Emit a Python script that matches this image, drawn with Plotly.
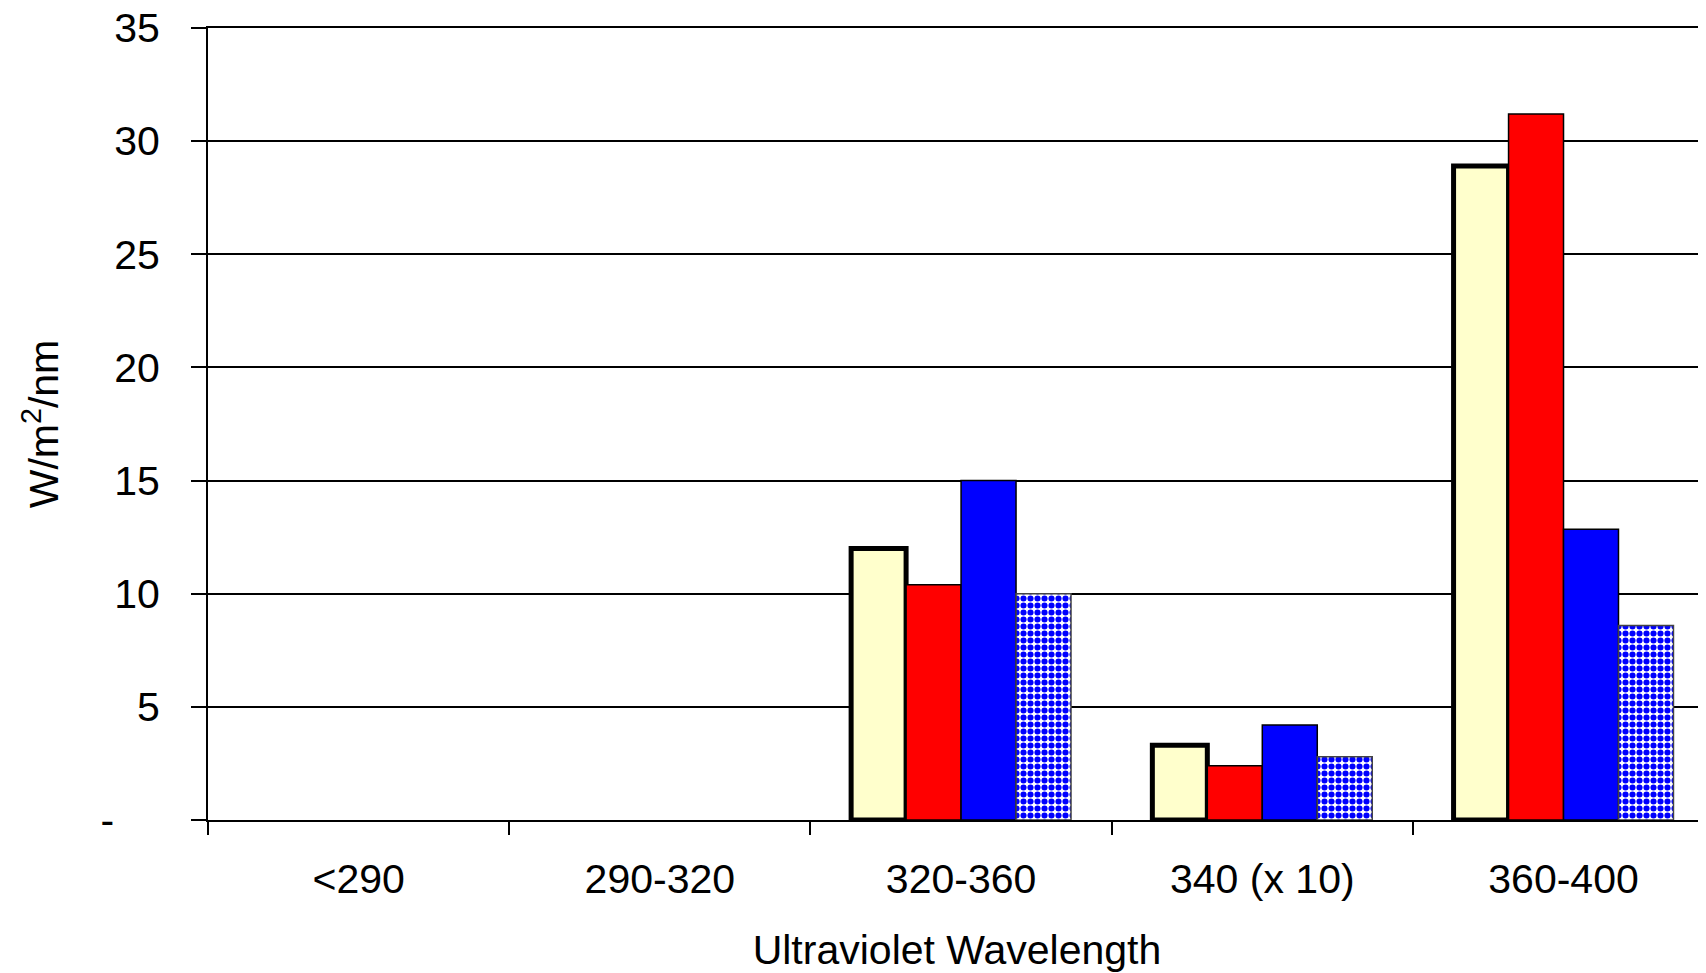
import plotly.graph_objects as go

categories = ["<290", "290-320", "320-360", "340 (x 10)", "360-400"]
series_cream = [None, None, 12.0, 3.3, 28.9]
series_red = [None, None, 10.4, 2.4, 31.2]
series_blue = [None, None, 15.0, 4.2, 12.85]
series_checker = [None, None, 10.0, 2.8, 8.6]

ytick_vals = [0, 5, 10, 15, 20, 25, 30, 35]
ytick_text = ["-\u00a0\u00a0\u00a0\u00a0", "5", "10", "15", "20", "25", "30", "35"]

FONT = "Liberation Sans, Arial, sans-serif"

fig = go.Figure()
fig.add_trace(go.Bar(x=categories, y=series_cream, name="A",
                     marker=dict(color="#FFFFCC", line=dict(color="black", width=5))))
fig.add_trace(go.Bar(x=categories, y=series_red, name="B",
                     marker=dict(color="#FF0000", line=dict(color="black", width=1.5))))
fig.add_trace(go.Bar(x=categories, y=series_blue, name="C",
                     marker=dict(color="#0000FF", line=dict(color="black", width=1.5))))
fig.add_trace(go.Bar(x=categories, y=series_checker, name="D",
                     marker=dict(color="white",
                                 line=dict(color="#444444", width=1.5),
                                 pattern=dict(shape=".", fgcolor="#0000FF", bgcolor="white",
                                              size=7, solidity=0.6, fillmode="replace"))))

fig.update_layout(
    width=1698, height=965,
    margin=dict(l=200, r=0, t=20, b=153),
    paper_bgcolor="white", plot_bgcolor="white",
    barmode="group", bargap=0.27, bargroupgap=0,
    showlegend=False,
    font=dict(family=FONT, size=41, color="black"),
)
fig.update_xaxes(
    type="category", range=[-0.5, 4.473], automargin=False,
    tickson="boundaries", ticks="outside", ticklen=13, tickwidth=2, tickcolor="black",
    showline=True, linecolor="black", linewidth=2, mirror=True,
    showgrid=False,
    tickfont=dict(family=FONT, size=41, color="black"),
    ticklabelstandoff=22,
    title=dict(text="Ultraviolet Wavelength", font=dict(family=FONT, size=41, color="black"), standoff=34),
)
fig.update_yaxes(
    range=[0, 35], tickvals=ytick_vals, ticktext=ytick_text, automargin=False,
    ticks="outside", ticklen=15, tickwidth=2, tickcolor="black",
    showline=True, linecolor="black", linewidth=2,
    showgrid=True, gridcolor="black", gridwidth=1.5,
    zeroline=False,
    tickfont=dict(family=FONT, size=41, color="black"),
    ticklabelstandoff=23, ticklabeloverflow="allow",
    title=dict(text="W/m<sup>2</sup>/nm", font=dict(family=FONT, size=41, color="black"), standoff=29),
)

fig.write_html("out.html")
